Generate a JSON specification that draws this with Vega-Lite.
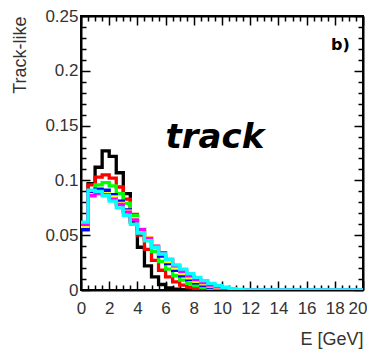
{
  "$schema": "https://vega.github.io/schema/vega-lite/v6.json",
  "width": 282,
  "height": 274,
  "autosize": "none",
  "padding": {"left": 81, "top": 16, "right": 4, "bottom": 59},
  "background": "white",
  "config": {"view": {"stroke": "black", "strokeWidth": 2}, "font": "Liberation Sans"},
  "datasets": {
    "h": [
      {"s":"black","E":0,"v":0.055},{"s":"black","E":0.5,"v":0.097},{"s":"black","E":1,"v":0.112},{"s":"black","E":1.5,"v":0.127},{"s":"black","E":2,"v":0.122},{"s":"black","E":2.5,"v":0.107},{"s":"black","E":3,"v":0.088},{"s":"black","E":3.5,"v":0.062},{"s":"black","E":4,"v":0.039},{"s":"black","E":4.5,"v":0.022},{"s":"black","E":5,"v":0.012},{"s":"black","E":5.5,"v":0.005},{"s":"black","E":6,"v":0.002},{"s":"black","E":6.5,"v":0.0008},{"s":"black","E":7,"v":0.0003},{"s":"black","E":7.5,"v":0},{"s":"black","E":20,"v":0},
      {"s":"red","E":0,"v":0.058},{"s":"red","E":0.5,"v":0.096},{"s":"red","E":1,"v":0.103},{"s":"red","E":1.5,"v":0.105},{"s":"red","E":2,"v":0.102},{"s":"red","E":2.5,"v":0.094},{"s":"red","E":3,"v":0.083},{"s":"red","E":3.5,"v":0.069},{"s":"red","E":4,"v":0.05},{"s":"red","E":4.5,"v":0.037},{"s":"red","E":5,"v":0.027},{"s":"red","E":5.5,"v":0.018},{"s":"red","E":6,"v":0.012},{"s":"red","E":6.5,"v":0.0075},{"s":"red","E":7,"v":0.0045},{"s":"red","E":7.5,"v":0.0026},{"s":"red","E":8,"v":0.0014},{"s":"red","E":8.5,"v":0.0006},{"s":"red","E":9,"v":0},{"s":"red","E":20,"v":0},
      {"s":"green","E":0,"v":0.058},{"s":"green","E":0.5,"v":0.09},{"s":"green","E":1,"v":0.096},{"s":"green","E":1.5,"v":0.098},{"s":"green","E":2,"v":0.095},{"s":"green","E":2.5,"v":0.088},{"s":"green","E":3,"v":0.079},{"s":"green","E":3.5,"v":0.068},{"s":"green","E":4,"v":0.056},{"s":"green","E":4.5,"v":0.045},{"s":"green","E":5,"v":0.035},{"s":"green","E":5.5,"v":0.026},{"s":"green","E":6,"v":0.019},{"s":"green","E":6.5,"v":0.013},{"s":"green","E":7,"v":0.009},{"s":"green","E":7.5,"v":0.006},{"s":"green","E":8,"v":0.004},{"s":"green","E":8.5,"v":0.0024},{"s":"green","E":9,"v":0.0013},{"s":"green","E":9.5,"v":0.0005},{"s":"green","E":10,"v":0},{"s":"green","E":20,"v":0},
      {"s":"blue","E":0,"v":0.055},{"s":"blue","E":0.5,"v":0.09},{"s":"blue","E":1,"v":0.092},{"s":"blue","E":1.5,"v":0.091},{"s":"blue","E":2,"v":0.087},{"s":"blue","E":2.5,"v":0.081},{"s":"blue","E":3,"v":0.073},{"s":"blue","E":3.5,"v":0.065},{"s":"blue","E":4,"v":0.056},{"s":"blue","E":4.5,"v":0.047},{"s":"blue","E":5,"v":0.039},{"s":"blue","E":5.5,"v":0.031},{"s":"blue","E":6,"v":0.024},{"s":"blue","E":6.5,"v":0.018},{"s":"blue","E":7,"v":0.013},{"s":"blue","E":7.5,"v":0.0095},{"s":"blue","E":8,"v":0.0065},{"s":"blue","E":8.5,"v":0.0043},{"s":"blue","E":9,"v":0.0027},{"s":"blue","E":9.5,"v":0.0015},{"s":"blue","E":10,"v":0.0007},{"s":"blue","E":10.5,"v":0},{"s":"blue","E":20,"v":0},
      {"s":"yellow","E":0,"v":0.058},{"s":"yellow","E":0.5,"v":0.087},{"s":"yellow","E":1,"v":0.089},{"s":"yellow","E":1.5,"v":0.088},{"s":"yellow","E":2,"v":0.085},{"s":"yellow","E":2.5,"v":0.079},{"s":"yellow","E":3,"v":0.072},{"s":"yellow","E":3.5,"v":0.065},{"s":"yellow","E":4,"v":0.056},{"s":"yellow","E":4.5,"v":0.048},{"s":"yellow","E":5,"v":0.04},{"s":"yellow","E":5.5,"v":0.033},{"s":"yellow","E":6,"v":0.026},{"s":"yellow","E":6.5,"v":0.02},{"s":"yellow","E":7,"v":0.015},{"s":"yellow","E":7.5,"v":0.011},{"s":"yellow","E":8,"v":0.008},{"s":"yellow","E":8.5,"v":0.0055},{"s":"yellow","E":9,"v":0.0035},{"s":"yellow","E":9.5,"v":0.002},{"s":"yellow","E":10,"v":0.001},{"s":"yellow","E":10.5,"v":0},{"s":"yellow","E":20,"v":0},
      {"s":"magenta","E":0,"v":0.06},{"s":"magenta","E":0.5,"v":0.086},{"s":"magenta","E":1,"v":0.088},{"s":"magenta","E":1.5,"v":0.087},{"s":"magenta","E":2,"v":0.083},{"s":"magenta","E":2.5,"v":0.078},{"s":"magenta","E":3,"v":0.071},{"s":"magenta","E":3.5,"v":0.064},{"s":"magenta","E":4,"v":0.055},{"s":"magenta","E":4.5,"v":0.047},{"s":"magenta","E":5,"v":0.04},{"s":"magenta","E":5.5,"v":0.034},{"s":"magenta","E":6,"v":0.028},{"s":"magenta","E":6.5,"v":0.022},{"s":"magenta","E":7,"v":0.017},{"s":"magenta","E":7.5,"v":0.013},{"s":"magenta","E":8,"v":0.0095},{"s":"magenta","E":8.5,"v":0.0068},{"s":"magenta","E":9,"v":0.0045},{"s":"magenta","E":9.5,"v":0.0028},{"s":"magenta","E":10,"v":0.0015},{"s":"magenta","E":10.5,"v":0.0007},{"s":"magenta","E":11,"v":0},{"s":"magenta","E":20,"v":0},
      {"s":"cyan","E":0,"v":0.062},{"s":"cyan","E":0.5,"v":0.091},{"s":"cyan","E":1,"v":0.09},{"s":"cyan","E":1.5,"v":0.086},{"s":"cyan","E":2,"v":0.081},{"s":"cyan","E":2.5,"v":0.075},{"s":"cyan","E":3,"v":0.068},{"s":"cyan","E":3.5,"v":0.06},{"s":"cyan","E":4,"v":0.052},{"s":"cyan","E":4.5,"v":0.045},{"s":"cyan","E":5,"v":0.039},{"s":"cyan","E":5.5,"v":0.033},{"s":"cyan","E":6,"v":0.028},{"s":"cyan","E":6.5,"v":0.023},{"s":"cyan","E":7,"v":0.019},{"s":"cyan","E":7.5,"v":0.015},{"s":"cyan","E":8,"v":0.0115},{"s":"cyan","E":8.5,"v":0.0085},{"s":"cyan","E":9,"v":0.006},{"s":"cyan","E":9.5,"v":0.004},{"s":"cyan","E":10,"v":0.0025},{"s":"cyan","E":10.5,"v":0.0013},{"s":"cyan","E":11,"v":0.0005},{"s":"cyan","E":11.5,"v":0},{"s":"cyan","E":20,"v":0}
    ],
    "ann": [
      {"label": "track", "E": 9.5, "v": 0.13},
      {"label": "b)", "E": 18.4, "v": 0.219}
    ]
  },
  "layer": [
    {
      "data": {"name": "h"},
      "mark": {"type": "line", "interpolate": "step-after", "strokeWidth": 3.3, "strokeJoin": "miter", "clip": true},
      "encoding": {
        "x": {
          "field": "E", "type": "quantitative",
          "scale": {"domain": [0, 20], "nice": false, "zero": false},
          "axis": {
            "orient": "bottom",
            "values": [0,0.5,1,1.5,2,2.5,3,3.5,4,4.5,5,5.5,6,6.5,7,7.5,8,8.5,9,9.5,10,10.5,11,11.5,12,12.5,13,13.5,14,14.5,15,15.5,16,16.5,17,17.5,18,18.5,19,19.5,20],
            "format": "~g",
            "labelExpr": "datum.value % 2 === 0 ? datum.label : ''",
            "tickSize": {"condition": {"test": "datum.value % 2 === 0", "value": -9}, "value": -5},
            "tickColor": "black", "tickWidth": 1.5,
            "domainColor": "black", "domainWidth": 2,
            "grid": false,
            "labelFont": "Liberation Sans", "labelFontSize": 17, "labelColor": "#333",
            "labelPadding": 19, "labelFlush": false, "labelOverlap": false,
            "labelAlign": {"condition": {"test": "datum.value === 20", "value": "right"}, "value": "center"},
            "labelOffset": {"condition": {"test": "datum.value === 20", "value": 4}, "value": 0},
            "title": "E [GeV]", "titleAnchor": "end", "titleFont": "Liberation Sans",
            "titleFontSize": 18, "titleFontWeight": "normal", "titleColor": "#333", "titlePadding": 10
          }
        },
        "y": {
          "field": "v", "type": "quantitative",
          "scale": {"domain": [0, 0.25], "nice": false},
          "axis": {
            "orient": "left",
            "values": [0,0.01,0.02,0.03,0.04,0.05,0.06,0.07,0.08,0.09,0.1,0.11,0.12,0.13,0.14,0.15,0.16,0.17,0.18,0.19,0.2,0.21,0.22,0.23,0.24,0.25],
            "format": "~g",
            "labelExpr": "abs(datum.value*20 - round(datum.value*20)) < 1e-6 ? datum.label : ''",
            "tickSize": {"condition": {"test": "abs(datum.value*20 - round(datum.value*20)) < 1e-6", "value": -9}, "value": -5},
            "tickColor": "black", "tickWidth": 1.5,
            "domainColor": "black", "domainWidth": 2,
            "grid": false,
            "labelFont": "Liberation Sans", "labelFontSize": 17, "labelColor": "#333",
            "labelPadding": 12, "labelFlush": false, "labelOverlap": false,
            "title": "Track-like", "titleAnchor": "end", "titleFont": "Liberation Sans",
            "titleFontSize": 18, "titleFontWeight": "normal", "titleColor": "#333", "titlePadding": 15
          }
        },
        "color": {
          "field": "s", "type": "nominal",
          "scale": {"domain": ["black","red","green","blue","yellow","magenta","cyan"], "range": ["#000000","#ff0000","#00ff00","#0000ff","#ffff00","#ff00ff","#00ffff"]},
          "legend": null
        }
      }
    },
    {
      "data": {"name": "ann"},
      "encoding": {
        "x": {
          "field": "E", "type": "quantitative",
          "axis": {
            "orient": "top",
            "values": [0,0.5,1,1.5,2,2.5,3,3.5,4,4.5,5,5.5,6,6.5,7,7.5,8,8.5,9,9.5,10,10.5,11,11.5,12,12.5,13,13.5,14,14.5,15,15.5,16,16.5,17,17.5,18,18.5,19,19.5,20],
            "labels": false,
            "tickSize": {"condition": {"test": "datum.value % 2 === 0", "value": -9}, "value": -5},
            "tickColor": "black", "tickWidth": 1.5,
            "domainColor": "black", "domainWidth": 2, "grid": false, "title": null
          }
        },
        "y": {
          "field": "v", "type": "quantitative",
          "axis": {
            "orient": "right",
            "values": [0,0.01,0.02,0.03,0.04,0.05,0.06,0.07,0.08,0.09,0.1,0.11,0.12,0.13,0.14,0.15,0.16,0.17,0.18,0.19,0.2,0.21,0.22,0.23,0.24,0.25],
            "labels": false,
            "tickSize": {"condition": {"test": "abs(datum.value*20 - round(datum.value*20)) < 1e-6", "value": -9}, "value": -5},
            "tickColor": "black", "tickWidth": 1.5,
            "domainColor": "black", "domainWidth": 2, "grid": false, "title": null
          }
        },
        "text": {"field": "label"}
      },
      "layer": [
        {
          "transform": [{"filter": "datum.label === 'track'"}],
          "mark": {"type": "text", "font": "DejaVu Sans", "fontSize": 34, "fontWeight": "bold", "fontStyle": "italic", "align": "center", "baseline": "alphabetic", "color": "black"}
        },
        {
          "transform": [{"filter": "datum.label === 'b)'"}],
          "mark": {"type": "text", "font": "DejaVu Sans", "fontSize": 16, "fontWeight": "bold", "align": "center", "baseline": "alphabetic", "color": "black"}
        }
      ]
    }
  ],
  "resolve": {"axis": {"x": "independent", "y": "independent"}}
}
